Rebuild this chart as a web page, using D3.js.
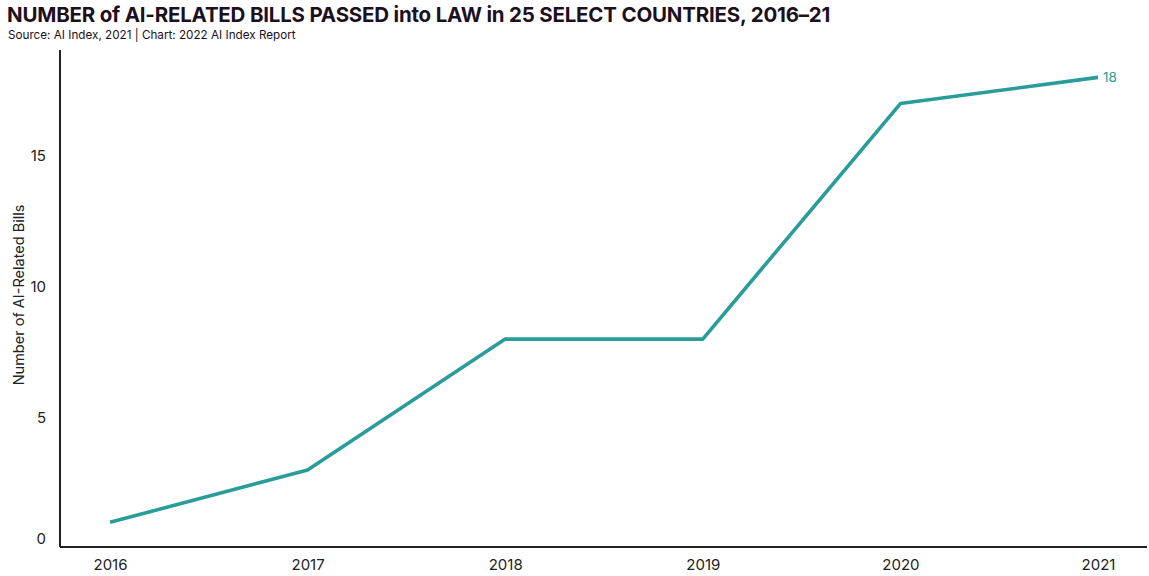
<!DOCTYPE html>
<html>
<head>
<meta charset="utf-8">
<script src="https://cdn.jsdelivr.net/npm/d3@7"></script>
<style>
    body { margin: 0; background: #fff; }
    svg text { font-family: "Inter", "Noto Sans", sans-serif; }
</style>
</head>
<body>
<script>
// Chart data
var years = ["2016", "2017", "2018", "2019", "2020", "2021"];
var bills = [1, 3, 8, 8, 17, 18];
var yTicks = [0, 5, 10, 15];

var W = 1149, H = 576;
var margin = {top: 50, right: 4, bottom: 29, left: 60},
    width = W - margin.left - margin.right,
    height = H - margin.top - margin.bottom;

var teal = "#2a9c99", ink = "#1c1020";

var svg = d3.select("body").append("svg")
    .attr("width", W)
    .attr("height", H);

// Title and source line
svg.append("text")
    .attr("x", 7).attr("y", 22)
    .attr("font-size", "20.5px")
    .attr("font-weight", 700)
    .attr("fill", ink)
    .attr("letter-spacing", "-0.2px")
    .text("NUMBER of AI-RELATED BILLS PASSED into LAW in 25 SELECT COUNTRIES, 2016\u201321");

svg.append("text")
    .attr("x", 8).attr("y", 39)
    .attr("font-size", "11.7px")
    .attr("fill", ink)
    .text("Source: AI Index, 2021 | Chart: 2022 AI Index Report");

var g = svg.append("g")
    .attr("transform", "translate(" + margin.left + "," + margin.top + ")");

// x: years spread evenly, y: count of bills
var xScale = d3.scalePoint().domain(years).range([50, 1038]);
var yScale = d3.scaleLinear().domain([0, 18.97]).range([height + 1.5, 2]);

// y axis: only the vertical line and the labels
var yAxis = d3.axisLeft(yScale).tickValues(yTicks).tickSize(0).tickPadding(14);
var yG = g.append("g").call(yAxis);
yG.select(".domain")
    .attr("d", "M0," + height + "V0")
    .attr("stroke", "#222").attr("stroke-width", 2);
yG.selectAll("text")
    .attr("font-size", "15px")
    .attr("fill", "#222")
    .attr("dy", function(d) { return d === 0 ? "-0.35em" : "0.32em"; });

// x axis along the bottom
var xAxis = d3.axisBottom(xScale).tickSize(0).tickPadding(12);
var xG = g.append("g")
    .attr("transform", "translate(0," + height + ")")
    .call(xAxis);
xG.select(".domain")
    .attr("d", "M0,0H" + (width + 2))
    .attr("stroke", "#222").attr("stroke-width", 2.2);
xG.selectAll("text")
    .attr("font-size", "15px")
    .attr("fill", "#222");

// Axis title
g.append("text")
    .attr("transform", "rotate(-90)")
    .attr("x", -245)
    .attr("y", -36)
    .attr("text-anchor", "middle")
    .attr("font-size", "14.5px")
    .attr("fill", "#222")
    .text("Number of AI-Related Bills");

// The line
var line = d3.line()
    .x(function(d, i) { return xScale(years[i]); })
    .y(function(d) { return yScale(d); });

g.append("path")
    .datum(bills)
    .attr("d", line)
    .attr("fill", "none")
    .attr("stroke", teal)
    .attr("stroke-width", 3.6)
    .attr("stroke-linejoin", "round");

// End label
var last = bills.length - 1;
g.append("text")
    .attr("x", xScale(years[last]) + 5)
    .attr("y", yScale(bills[last]))
    .attr("dy", "0.35em")
    .attr("font-size", "13.5px")
    .attr("fill", teal)
    .text(bills[last]);
</script>
</body>
</html>
